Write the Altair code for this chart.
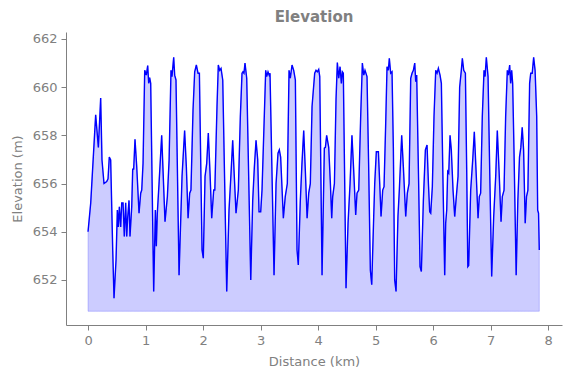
import altair as alt
import pandas as pd

distance_km = [
    0.000, 0.047, 0.133, 0.180, 0.220, 0.243, 0.278, 0.325, 0.348, 0.370, 0.394, 0.430, 0.452, 0.487,
    0.510, 0.527, 0.545, 0.568, 0.586, 0.609, 0.631, 0.655, 0.673, 0.690, 0.713, 0.730, 0.760, 0.777,
    0.794, 0.817, 0.847, 0.887, 0.916, 0.934, 0.957, 0.986, 1.014, 1.038, 1.055, 1.072, 1.090, 1.142,
    1.171, 1.188, 1.205, 1.235, 1.281, 1.339, 1.380, 1.410, 1.443, 1.460, 1.490, 1.507, 1.530, 1.583,
    1.635, 1.680, 1.710, 1.740, 1.768, 1.790, 1.826, 1.855, 1.884, 1.913, 1.937, 1.983, 2.005, 2.035,
    2.064, 2.092, 2.122, 2.151, 2.186, 2.205, 2.243, 2.266, 2.290, 2.313, 2.343, 2.412, 2.452, 2.487,
    2.516, 2.539, 2.574, 2.614, 2.649, 2.678, 2.695, 2.712, 2.730, 2.760, 2.830, 2.864, 2.893, 2.922,
    2.951, 2.974, 3.003, 3.026, 3.090, 3.107, 3.130, 3.150, 3.165, 3.235, 3.270, 3.304, 3.327, 3.350,
    3.397, 3.430, 3.466, 3.496, 3.518, 3.548, 3.577, 3.606, 3.635, 3.657, 3.692, 3.720, 3.751, 3.780,
    3.810, 3.838, 3.866, 3.896, 3.942, 3.965, 3.988, 4.012, 4.030, 4.070, 4.110, 4.128, 4.150, 4.186,
    4.215, 4.238, 4.255, 4.285, 4.313, 4.336, 4.360, 4.383, 4.406, 4.423, 4.440, 4.487, 4.522, 4.557,
    4.590, 4.620, 4.655, 4.678, 4.708, 4.742, 4.771, 4.795, 4.817, 4.852, 4.880, 4.910, 4.934, 4.968,
    4.986, 5.014, 5.050, 5.073, 5.096, 5.125, 5.148, 5.177, 5.200, 5.223, 5.240, 5.264, 5.287, 5.310,
    5.333, 5.357, 5.390, 5.414, 5.455, 5.484, 5.525, 5.553, 5.583, 5.612, 5.635, 5.658, 5.682, 5.699,
    5.716, 5.750, 5.774, 5.797, 5.832, 5.867, 5.896, 5.920, 5.942, 5.960, 5.988, 6.017, 6.047, 6.070,
    6.093, 6.122, 6.145, 6.174, 6.203, 6.220, 6.238, 6.255, 6.273, 6.296, 6.318, 6.348, 6.377, 6.405,
    6.435, 6.463, 6.492, 6.510, 6.534, 6.563, 6.586, 6.605, 6.620, 6.655, 6.690, 6.718, 6.748, 6.783,
    6.805, 6.828, 6.857, 6.887, 6.905, 6.927, 6.957, 6.990, 7.020, 7.055, 7.090, 7.118, 7.148, 7.183,
    7.205, 7.235, 7.263, 7.292, 7.310, 7.333, 7.350, 7.368, 7.385, 7.408, 7.446, 7.475, 7.504, 7.527,
    7.551, 7.575, 7.603, 7.626, 7.650, 7.680, 7.699, 7.725, 7.750, 7.775, 7.803, 7.820, 7.835, 7.848,
]

elevation_m = [
    654.00, 655.20, 658.85, 657.50, 659.55, 656.98, 656.00, 656.08, 656.20, 657.10, 656.98, 653.20, 651.24, 652.83,
    654.90, 654.20, 655.04, 654.20, 655.20, 655.20, 653.80, 655.20, 653.80, 654.60, 655.30, 653.80, 655.04, 656.60,
    656.60, 657.84, 656.70, 654.77, 655.60, 655.73, 656.85, 660.70, 660.50, 660.90, 660.16, 660.40, 660.16, 651.52,
    654.90, 653.40, 654.77, 656.00, 658.00, 654.42, 655.46, 656.98, 660.70, 660.44, 661.24, 660.50, 660.30, 652.20,
    656.30, 658.20, 656.70, 654.56, 655.60, 655.73, 659.05, 660.64, 660.92, 660.58, 660.58, 653.24, 652.90, 656.30,
    656.84, 658.10, 656.43, 654.56, 655.73, 655.73, 659.20, 660.92, 660.70, 660.78, 660.30, 651.52, 654.90, 656.43,
    657.80, 656.56, 654.77, 655.73, 658.78, 660.58, 660.64, 660.58, 661.00, 660.37, 652.00, 655.30, 656.70, 657.80,
    657.00, 654.83, 654.83, 655.73, 660.70, 660.44, 660.64, 660.50, 660.58, 652.20, 656.00, 657.26, 657.40, 657.10,
    654.56, 655.46, 656.00, 660.70, 660.37, 660.92, 660.70, 660.30, 653.24, 652.62, 655.30, 656.80, 658.20, 656.50,
    654.56, 655.60, 656.00, 659.20, 660.58, 660.70, 660.64, 660.74, 660.44, 652.20, 657.47, 657.50, 658.00, 657.50,
    656.00, 654.56, 655.46, 656.00, 659.50, 661.02, 660.37, 660.85, 660.16, 660.64, 660.58, 651.66, 654.35, 656.00,
    658.00, 656.56, 654.70, 655.60, 655.73, 658.80, 661.00, 660.50, 660.70, 660.44, 656.80, 652.40, 651.80, 654.60,
    656.00, 657.32, 657.32, 656.00, 654.63, 655.73, 655.87, 658.50, 660.85, 660.70, 661.20, 660.58, 660.64, 657.50,
    652.00, 651.52, 654.63, 655.73, 658.00, 656.70, 654.63, 655.60, 656.00, 660.37, 660.58, 660.70, 661.00, 660.23,
    660.50, 656.00, 652.55, 652.35, 655.30, 657.40, 657.60, 656.00, 654.83, 654.77, 655.87, 658.78, 660.70, 660.58,
    660.78, 660.50, 660.16, 656.00, 652.20, 654.35, 654.90, 656.50, 656.43, 658.00, 657.40, 655.73, 654.63, 655.46,
    656.30, 660.00, 660.70, 661.20, 660.70, 660.58, 656.50, 652.55, 652.60, 655.73, 656.98, 658.15, 656.56, 654.56,
    655.46, 655.60, 658.78, 660.70, 660.44, 661.24, 660.44, 656.00, 652.14, 654.63, 656.30, 658.20, 656.56, 654.42,
    655.46, 655.73, 658.78, 660.70, 660.50, 660.92, 660.16, 660.70, 660.16, 657.40, 652.20, 655.30, 657.10, 657.50,
    658.33, 657.40, 654.35, 655.46, 655.73, 660.16, 660.58, 660.58, 661.24, 660.70, 658.78, 654.90, 654.77, 653.24,
]

baseline_m = 650.7
x_ticks = [0, 1, 2, 3, 4, 5, 6, 7, 8]
y_ticks = [652, 654, 656, 658, 660, 662]

df = pd.DataFrame({"d": distance_km, "e": elevation_m})
df["base"] = baseline_m

GRAY = "#808080"
FONT = "DejaVu Sans"

x_enc = alt.X(
    "d:Q",
    scale=alt.Scale(domain=[-0.383, 8.243], nice=False, zero=False),
    axis=alt.Axis(values=x_ticks, title="Distance (km)", format="d"),
)
y_enc = alt.Y(
    "e:Q",
    scale=alt.Scale(domain=[650.13, 662.29], nice=False, zero=False),
    axis=alt.Axis(values=y_ticks, title="Elevation (m)", format="d"),
)

area = alt.Chart(df).mark_area(
    color="blue", fillOpacity=0.2, stroke="blue", strokeOpacity=0.2, strokeWidth=1
).encode(x=x_enc, y=y_enc, y2="base:Q")

line = alt.Chart(df).mark_line(color="blue", strokeWidth=1.4).encode(x=x_enc, y=y_enc)

chart = (
    alt.layer(area, line)
    .properties(
        width=496,
        height=293,
        title=alt.TitleParams(
            "Elevation", font=FONT, fontSize=15, fontWeight="bold", color=GRAY, offset=7
        ),
        autosize=alt.AutoSizeParams(type="none"),
        padding={"left": 58, "top": 24, "right": 1, "bottom": 45},
    )
    .configure_view(stroke=None)
    .configure_axis(
        grid=False,
        domainColor=GRAY,
        tickColor=GRAY,
        labelColor=GRAY,
        titleColor=GRAY,
        labelFont=FONT,
        titleFont=FONT,
        labelFontSize=13,
        titleFontSize=13,
        titleFontWeight="normal",
        tickSize=5,
        labelPadding=4,
        domainWidth=1,
    )
    .configure_axisX(titlePadding=8)
    .configure_axisY(titlePadding=8)
)

chart.save("out.html", embed_options={"renderer": "svg", "actions": False})
